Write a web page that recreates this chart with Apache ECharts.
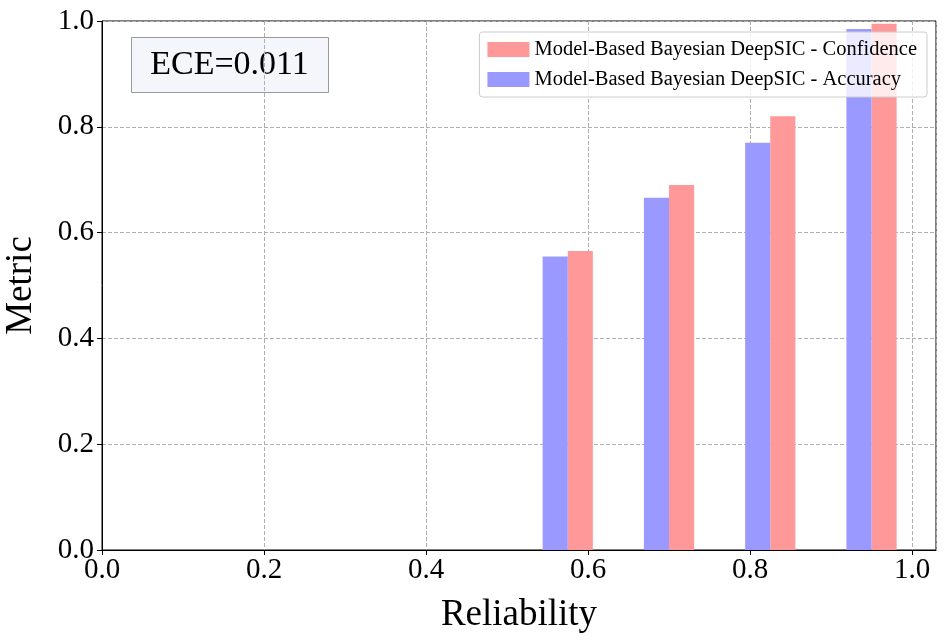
<!DOCTYPE html>
<html><head><meta charset="utf-8">
<script src="https://cdn.jsdelivr.net/npm/echarts@6/dist/echarts.min.js"></script>
<style>html,body{margin:0;padding:0;background:#fff}#c{width:946px;height:641px}</style>
</head><body><div id="c"></div>
<script>
const binCenters = [0.575, 0.7, 0.825, 0.95];
const accuracy = [0.555, 0.666, 0.770, 0.985];
const confidence = [0.565, 0.690, 0.820, 0.995];
const xTicks = [0.0, 0.2, 0.4, 0.6, 0.8, 1.0];
const ece = 'ECE=0.011';
const barW = 0.031;
function rend(off){
  return function(params, api){
    const x = api.value(0) + off;
    const y = api.value(1);
    const p0 = api.coord([x - barW/2, y]);
    const p1 = api.coord([x + barW/2, 0]);
    return {type:'rect', shape:{x:p0[0], y:p0[1], width:p1[0]-p0[0], height:p1[1]-p0[1]}, style:{fill:api.visual('color')}};
  };
}
const font = 'Liberation Serif';
const chart = echarts.init(document.getElementById('c'));
chart.setOption({
  animation:false,
  textStyle:{fontFamily:font},
  grid:{left:102, right:10, top:21, bottom:91, containLabel:false, outerBoundsMode:'none', show:true, borderColor:'#000', borderWidth:1},
  xAxis:{type:'value', min:0, max:1.0296, interval:0.2, name:'Reliability', nameLocation:'middle', nameGap:47,
    nameTextStyle:{fontSize:37, color:'#000', fontFamily:font},
    axisLabel:{fontSize:29, color:'#000', fontFamily:font, margin:6, formatter:v=>xTicks.includes(+v.toFixed(1))?v.toFixed(1):''},
    axisLine:{lineStyle:{color:'#000'}}, axisTick:{show:true, inside:false, length:5, lineStyle:{color:'#000'}},
    splitLine:{show:true, lineStyle:{type:'dashed', color:'#b0b0b0'}}},
  yAxis:{type:'value', min:0, max:1, interval:0.2, name:'Metric', nameLocation:'middle', nameGap:62,
    nameTextStyle:{fontSize:37, color:'#000', fontFamily:font},
    axisLabel:{fontSize:29, color:'#000', fontFamily:font, margin:8, formatter:v=>v.toFixed(1)},
    axisLine:{show:true, lineStyle:{color:'#000'}}, axisTick:{show:true, length:5, lineStyle:{color:'#000'}},
    splitLine:{show:true, lineStyle:{type:'dashed', color:'#b0b0b0'}}},
  legend:{right:19, top:32, orient:'vertical', itemWidth:42, itemHeight:15, itemGap:9,
    borderColor:'#ccc', borderWidth:1, borderRadius:3, padding:[7,10,7,8], backgroundColor:'rgba(255,255,255,0.8)',
    textStyle:{fontSize:20.5, fontFamily:font, color:'#000'},
    data:[{name:'Model-Based Bayesian DeepSIC - Confidence', icon:'rect'},{name:'Model-Based Bayesian DeepSIC - Accuracy', icon:'rect'}]},
  graphic:[{type:'group', left:131, top:37, children:[
    {type:'rect', shape:{x:0,y:0,width:197,height:55}, style:{fill:'#f5f5fc', stroke:'#999', lineWidth:1}},
    {type:'text', style:{x:98, y:28, text:ece, font:'34px "Liberation Serif"', fill:'#000', align:'center', verticalAlign:'middle'}}]}],
  series:[
    {name:'Model-Based Bayesian DeepSIC - Confidence', type:'custom', color:'#ff9999', renderItem:rend(barW/2), data:binCenters.map((c,i)=>[c,confidence[i]])},
    {name:'Model-Based Bayesian DeepSIC - Accuracy', type:'custom', color:'#9999ff', renderItem:rend(-barW/2), data:binCenters.map((c,i)=>[c,accuracy[i]])}
  ]
});
</script></body></html>
